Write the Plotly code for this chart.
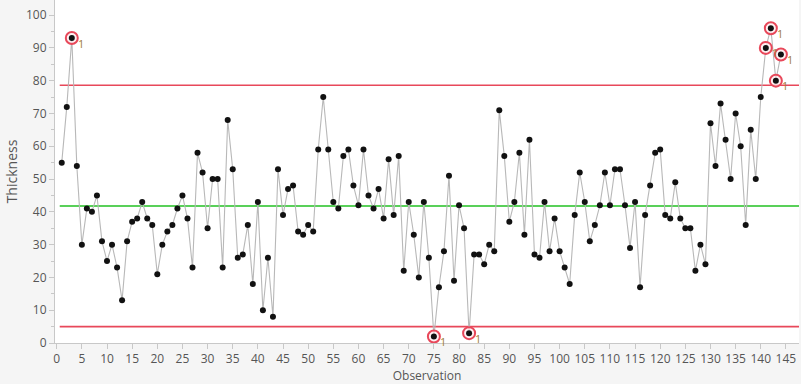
import plotly.graph_objects as go

observation = list(range(1, 145))
thickness = [
    55, 72, 93, 54, 30, 41, 40, 45, 31, 25, 30, 23, 13, 31, 37, 38, 43, 38, 36, 21,
    30, 34, 36, 41, 45, 38, 23, 58, 52, 35, 50, 50, 23, 68, 53, 26, 27, 36, 18, 43,
    10, 26, 8, 53, 39, 47, 48, 34, 33, 36, 34, 59, 75, 59, 43, 41, 57, 59, 48, 42,
    59, 45, 41, 47, 38, 56, 39, 57, 22, 43, 33, 20, 43, 26, 2, 17, 28, 51, 19, 42,
    35, 3, 27, 27, 24, 30, 28, 71, 57, 37, 43, 58, 33, 62, 27, 26, 43, 28, 38, 28,
    23, 18, 39, 52, 43, 31, 36, 42, 52, 42, 53, 53, 42, 29, 43, 17, 39, 48, 58, 59,
    39, 38, 49, 38, 35, 35, 22, 30, 24, 67, 54, 73, 62, 50, 70, 60, 36, 65, 50, 75,
    90, 96, 80, 88,
]
ucl = 78.6
center = 41.8
lcl = 5.0
limit_x = [0.6, 147.6]

out_x = [o for o, v in zip(observation, thickness) if v > ucl or v < lcl]
out_y = [v for v in thickness if v > ucl or v < lcl]

fig = go.Figure()
for val, col in [(ucl, "#e8485a"), (lcl, "#e8485a"), (center, "#22c022")]:
    fig.add_trace(go.Scatter(x=limit_x, y=[val, val], mode="lines",
                             line=dict(color=col, width=1.6), hoverinfo="skip"))
fig.add_trace(go.Scatter(x=observation, y=thickness, mode="lines",
                         line=dict(color="#b8b8b8", width=1.1)))
fig.add_trace(go.Scatter(x=out_x, y=out_y, mode="markers",
                         marker=dict(size=12, color="rgba(255,235,238,0.7)",
                                     line=dict(color="#e8485a", width=2))))
fig.add_trace(go.Scatter(x=observation, y=thickness, mode="markers",
                         marker=dict(size=6, color="#111111")))
for x, y in zip(out_x, out_y):
    fig.add_annotation(x=x, y=y, text="1", showarrow=False, xshift=9, yshift=-5,
                       font=dict(size=11, color="#a07d3c", family="Segoe UI, Open Sans, sans-serif"))

fig.update_layout(
    width=801, height=384,
    margin=dict(l=55, r=2, t=0, b=41, autoexpand=False),
    paper_bgcolor="#f5f5f5", plot_bgcolor="#ffffff",
    showlegend=False,
    font=dict(family="Segoe UI, Open Sans, sans-serif", color="#555555", size=12),
)
fig.update_xaxes(range=[-0.34, 147.6], tickmode="linear", tick0=0, dtick=5,
                 automargin=False,
                 showgrid=False, zeroline=False, showline=True, linecolor="#c8c8c8",
                 ticks="outside", ticklen=5, tickcolor="#c8c8c8",
                 title=dict(text="Observation", standoff=0, font=dict(size=12)))
fig.update_yaxes(range=[0, 104.6], tickmode="linear", tick0=0, dtick=10,
                 automargin=False,
                 showgrid=False, zeroline=False, showline=True, linecolor="#c8c8c8",
                 ticks="outside", ticklen=5, tickcolor="#c8c8c8",
                 minor=dict(ticks="outside", ticklen=3, dtick=5, tickcolor="#c8c8c8"),
                 title=dict(text="Thickness", standoff=5, font=dict(size=14)))

fig.write_html("out.html", config={"displayModeBar": False},
               post_script="document.body.style.margin='0';document.body.style.overflow='hidden';")
